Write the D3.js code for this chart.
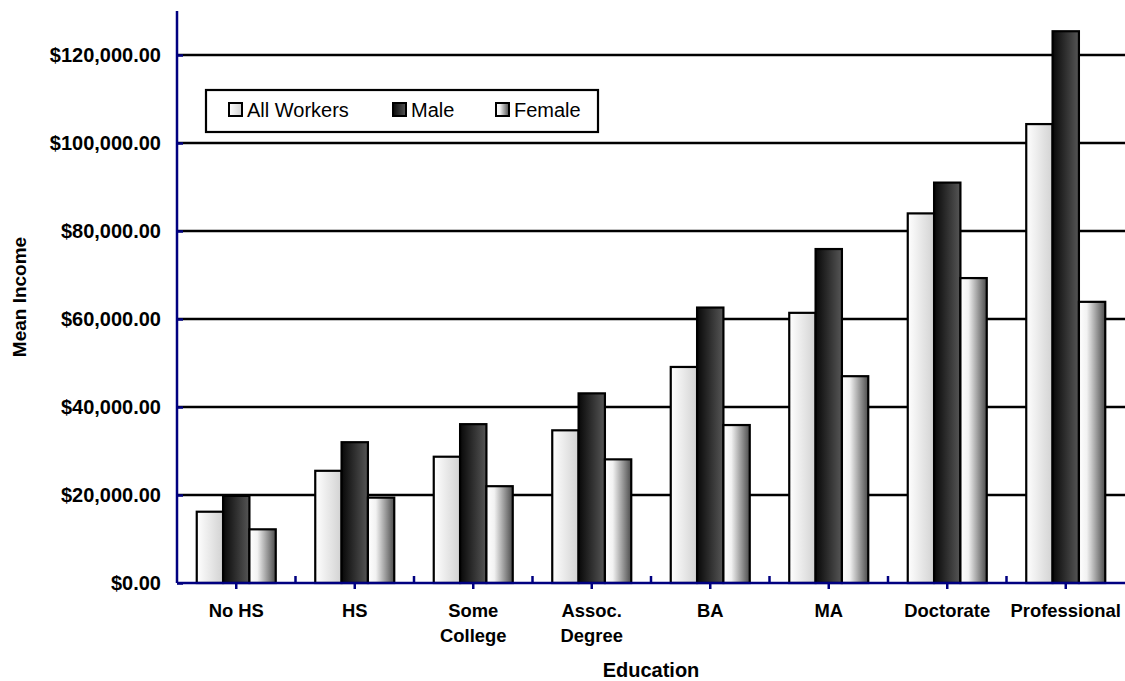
<!DOCTYPE html>
<html>
<head>
<meta charset="utf-8">
<script src="https://cdn.jsdelivr.net/npm/d3@7"></script>
<style>
  html, body { margin: 0; padding: 0; background: #fff; }
  svg { display: block; font-family: "Liberation Sans", Arial, sans-serif; }
</style>
</head>
<body>
<svg id="chart" width="1125" height="681"></svg>
<script>
// Mean income by education level
const categories = [["No HS"], ["HS"], ["Some", "College"], ["Assoc.", "Degree"], ["BA"], ["MA"], ["Doctorate"], ["Professional"]];
const seriesNames = ["All Workers", "Male", "Female"];
const allWorkers = [16200, 25500, 28700, 34700, 49100, 61400, 84000, 104300];
const male       = [19800, 32000, 36100, 43100, 62600, 75900, 91000, 125400];
const female     = [12200, 19400, 22000, 28100, 35900, 47000, 69300, 63900];
const yTicks = [0, 20000, 40000, 60000, 80000, 100000, 120000];
const yMax = 130000;

const series = [allWorkers, male, female];
const catKeys = categories.map(c => c.join(" "));

const svg = d3.select("#chart");
const navy = "#000080";
const plot = { left: 177, right: 1125, top: 11, bottom: 583 };

// Gradient fills for each series (left-to-right shading)
const defs = svg.append("defs");
const gradStops = [
  [["0%", "#ffffff"], ["100%", "#d2d2d2"]],
  [["0%", "#080808"], ["100%", "#565656"]],
  [["0%", "#ffffff"], ["30%", "#f2f2f2"], ["100%", "#4c4c4c"]]
];
gradStops.forEach((stops, i) => {
  const g = defs.append("linearGradient").attr("id", "grad" + i)
    .attr("x1", "0%").attr("x2", "100%").attr("y1", "0%").attr("y2", "0%");
  stops.forEach(s => g.append("stop").attr("offset", s[0]).attr("stop-color", s[1]));
});

const x0 = d3.scaleBand().domain(catKeys).range([plot.left, plot.right]).paddingInner(0).paddingOuter(0);
const barW = x0.bandwidth() / 4.5;
const x1 = d3.scaleBand().domain(d3.range(3)).range([0, barW * 3]);
const groupOffset = (x0.bandwidth() - barW * 3) / 2;
const y = d3.scaleLinear().domain([0, yMax]).range([plot.bottom, plot.top]);

// Horizontal gridlines
svg.append("g").selectAll("line")
  .data(yTicks.filter(t => t > 0))
  .join("line")
  .attr("x1", plot.left).attr("x2", plot.right)
  .attr("y1", d => y(d)).attr("y2", d => y(d))
  .attr("stroke", "#000").attr("stroke-width", 2.5);

// Bars
const groups = svg.append("g").selectAll("g")
  .data(catKeys)
  .join("g")
  .attr("transform", d => `translate(${x0(d) + groupOffset},0)`);

groups.selectAll("rect")
  .data((d, ci) => series.map((s, si) => ({ si, v: s[ci] })))
  .join("rect")
  .attr("x", d => x1(d.si))
  .attr("width", x1.bandwidth())
  .attr("y", d => y(d.v))
  .attr("height", d => y(0) - y(d.v))
  .attr("fill", d => `url(#grad${d.si})`)
  .attr("stroke", "#000")
  .attr("stroke-width", 2.2);

// Y axis
const yAxis = d3.axisRight(y).tickValues(yTicks).tickSize(6).tickFormat("");
const yAxisG = svg.append("g").attr("transform", `translate(${plot.left},0)`).call(yAxis);
yAxisG.select(".domain").attr("d", `M0,${plot.top}V${plot.bottom}`);
yAxisG.selectAll("path, line").attr("stroke", navy).attr("stroke-width", 2.5);

svg.append("g").selectAll("text")
  .data(yTicks)
  .join("text")
  .attr("x", 161)
  .attr("y", d => y(d) + 7)
  .attr("text-anchor", "end")
  .attr("font-size", 20)
  .attr("font-weight", "bold")
  .text(d => "$" + d3.format(",.2f")(d));

// X axis: ticks down at category centres, up at category boundaries
const xAxisG = svg.append("g");
xAxisG.append("line")
  .attr("x1", plot.left).attr("x2", plot.right)
  .attr("y1", plot.bottom).attr("y2", plot.bottom)
  .attr("stroke", navy).attr("stroke-width", 2.5);
xAxisG.selectAll("line.center")
  .data(catKeys)
  .join("line").attr("class", "center")
  .attr("x1", d => x0(d) + x0.bandwidth() / 2).attr("x2", d => x0(d) + x0.bandwidth() / 2)
  .attr("y1", plot.bottom).attr("y2", plot.bottom + 6)
  .attr("stroke", navy).attr("stroke-width", 2.5);
xAxisG.selectAll("line.bound")
  .data(catKeys.slice(1))
  .join("line").attr("class", "bound")
  .attr("x1", d => x0(d)).attr("x2", d => x0(d))
  .attr("y1", plot.bottom).attr("y2", plot.bottom - 7)
  .attr("stroke", navy).attr("stroke-width", 2.5);

// Category labels (possibly two lines)
const catLabels = svg.append("g").selectAll("text")
  .data(categories)
  .join("text")
  .attr("x", (d, i) => x0(catKeys[i]) + x0.bandwidth() / 2)
  .attr("y", 617)
  .attr("text-anchor", "middle")
  .attr("font-size", 18.4)
  .attr("font-weight", "bold");
catLabels.selectAll("tspan")
  .data(d => d)
  .join("tspan")
  .attr("x", function () { return d3.select(this.parentNode).attr("x"); })
  .attr("dy", (d, i) => i === 0 ? 0 : 25)
  .text(d => d);

// Axis titles
svg.append("text")
  .attr("x", (plot.left + plot.right) / 2)
  .attr("y", 677)
  .attr("text-anchor", "middle")
  .attr("font-size", 20)
  .attr("font-weight", "bold")
  .text("Education");

svg.append("text")
  .attr("transform", `translate(26,${(plot.top + plot.bottom) / 2}) rotate(-90)`)
  .attr("text-anchor", "middle")
  .attr("font-size", 19)
  .attr("font-weight", "bold")
  .text("Mean Income");

// Legend
const legend = svg.append("g");
legend.append("rect")
  .attr("x", 206).attr("y", 90).attr("width", 392).attr("height", 42)
  .attr("fill", "#fff").attr("stroke", "#000").attr("stroke-width", 2.2);
const legendX = [229, 393, 496];
const items = legend.selectAll("g.item")
  .data(seriesNames)
  .join("g").attr("class", "item")
  .attr("transform", (d, i) => `translate(${legendX[i]},103)`);
items.append("rect")
  .attr("width", 13).attr("height", 13)
  .attr("fill", (d, i) => `url(#grad${i})`)
  .attr("stroke", "#000").attr("stroke-width", 2);
items.append("text")
  .attr("x", 18).attr("y", 13.5)
  .attr("font-size", 20)
  .text(d => d);
</script>
</body>
</html>
